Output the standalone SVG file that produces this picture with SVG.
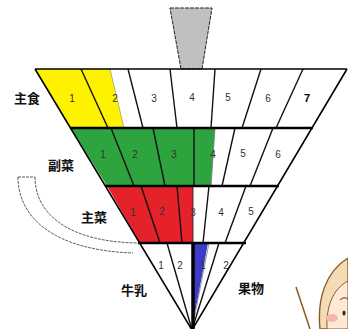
<svg xmlns="http://www.w3.org/2000/svg" width="348" height="329" viewBox="0 0 348 329">
  <style>
    .edge { fill: none; stroke: #000; stroke-width: 1.6; stroke-linejoin: miter; }
    .band { stroke: #000; stroke-width: 2.6; }
    .div { stroke: #111; stroke-width: 1.4; }
    .num { font-family: "Liberation Sans", Arial, sans-serif; font-size: 10px; fill: #333; text-anchor: middle; }
    .cat { font-family: "Noto Sans CJK JP", "Noto Sans", sans-serif; font-size: 13px; font-weight: bold; fill: #111; text-anchor: middle; }
    .spin { fill: none; stroke: #333; stroke-width: 0.8; stroke-dasharray: 3 1; }
  </style>

  <!-- spindle -->
  <g id="spindle">
    <polygon points="170,8 212,8 202,69 181,69" fill="#c0c0c0" stroke="#222" stroke-width="1" stroke-dasharray="4 1"/>
  </g>

  <!-- rotation arrow -->
  <g id="rotation">
    <path class="spin" d="M18,177 L35,177"/>
    <path class="spin" d="M18,177 C18,215 50,250 133,253"/>
    <path class="spin" d="M35,177 C35,215 70,242 138,243"/>
  </g>

  <!-- 主食 -->
  <g id="shushoku">
    <polygon points="35,69 81,69 108,128 71,128" fill="#fff200"/>
    <polygon points="81,69 110,69 124,128 108,128" fill="#fff200"/>
    <line x1="110" y1="69" x2="124" y2="128" stroke="#999" stroke-width="0.8"/>
    <line class="div" x1="81" y1="69" x2="108" y2="128"/>
    <line class="div" x1="128" y1="69" x2="143" y2="128"/>
    <line class="div" x1="170" y1="69" x2="177" y2="128"/>
    <line class="div" x1="215" y1="69" x2="211" y2="128"/>
    <line class="div" x1="261" y1="69" x2="242" y2="128"/>
    <line class="div" x1="303" y1="69" x2="276" y2="128"/>
    <text class="num" x="72" y="102">1</text>
    <text class="num" x="115" y="102">2</text>
    <text class="num" x="154" y="102">3</text>
    <text class="num" x="192" y="101">4</text>
    <text class="num" x="228" y="101">5</text>
    <text class="num" x="268" y="102">6</text>
    <text class="num" x="307" y="102" style="font-weight:bold;fill:#000;font-size:11px">7</text>
    <text class="cat" x="27" y="103">主食</text>
  </g>

  <!-- 副菜 -->
  <g id="fukusai">
    <polygon points="71,128 215,128 211,186 107,186" fill="#2ea43e"/>
    <line x1="215" y1="128" x2="211" y2="186" stroke="#777" stroke-width="0.8"/>
    <line class="div" x1="111" y1="128" x2="134" y2="186"/>
    <line class="div" x1="153" y1="128" x2="165" y2="186"/>
    <line class="div" x1="194" y1="128" x2="194" y2="186"/>
    <line class="div" x1="235" y1="128" x2="222" y2="186"/>
    <line class="div" x1="273" y1="128" x2="250" y2="186"/>
    <text class="num" x="103" y="158">1</text>
    <text class="num" x="135" y="158">2</text>
    <text class="num" x="174" y="158">3</text>
    <text class="num" x="213" y="158">4</text>
    <text class="num" x="243" y="157">5</text>
    <text class="num" x="278" y="158">6</text>
    <text class="cat" x="61" y="170">副菜</text>
  </g>

  <!-- 主菜 -->
  <g id="shusai">
    <polygon points="107,186 193,186 193,243 140,243" fill="#e5222a"/>
    <line class="div" x1="141" y1="186" x2="160" y2="243"/>
    <line class="div" x1="177" y1="186" x2="182" y2="243"/>
    <line class="div" x1="193" y1="186" x2="193" y2="243" style="stroke-width:0.8"/>
    <line class="div" x1="209" y1="186" x2="203" y2="243"/>
    <line class="div" x1="246" y1="186" x2="225" y2="243"/>
    <text class="num" x="133" y="216">1</text>
    <text class="num" x="162" y="215">2</text>
    <text class="num" x="193" y="216">3</text>
    <text class="num" x="221" y="216">4</text>
    <text class="num" x="251" y="215">5</text>
    <text class="cat" x="94" y="222">主菜</text>
  </g>

  <!-- 牛乳・乳製品 -->
  <g id="milk">
    <line class="div" x1="167" y1="243" x2="192" y2="330"/>
    <text class="num" x="161" y="269">1</text>
    <text class="num" x="180" y="269">2</text>
    <text class="cat" x="134" y="295">牛乳</text>
  </g>

  <!-- 果物 -->
  <g id="fruit">
    <polygon points="193,243 208,243 192,330" fill="#3c3cc8"/>
    <line x1="209" y1="243" x2="192" y2="330" stroke="#999" stroke-width="1"/>
    <line class="div" x1="219" y1="243" x2="192" y2="330"/>
    <text class="num" x="203" y="269">1</text>
    <text class="num" x="226" y="269">2</text>
    <text class="cat" x="251" y="293">果物</text>
  </g>

  <!-- outline and band boundaries -->
  <g id="connectors">
    <polyline class="edge" points="35,69 192,330 347,69"/>
    <line x1="35" y1="69" x2="347" y2="69" stroke="#000" stroke-width="1.6"/>
    <line class="band" x1="70" y1="128" x2="313" y2="128"/>
    <line class="band" x1="105" y1="186" x2="279" y2="186"/>
    <line class="band" x1="138" y1="243" x2="246" y2="243"/>
    <line x1="193" y1="243" x2="193" y2="330" stroke="#000" stroke-width="3.5"/>
  </g>

  <!-- figure with pointer -->
  <g id="girl">
    <line x1="296" y1="287" x2="310" y2="329" stroke="#8a5a2a" stroke-width="1.5"/>
    <path d="M320,329 C317,300 325,272 348,258 L348,329 Z" fill="#f3dcb4" stroke="#8a5a2a" stroke-width="1.4"/>
    <path d="M327,329 C326,306 333,289 348,281 L348,329 Z" fill="#fde9d6" stroke="#8a5a2a" stroke-width="1"/>
    <ellipse cx="332" cy="318" rx="6" ry="4" fill="#f6b6b0"/>
    <path d="M340,300 Q344,296 348,299" fill="none" stroke="#5a3a1a" stroke-width="1"/>
    <ellipse cx="344" cy="313" rx="1.5" ry="2.5" fill="#222"/>
  </g>
</svg>
